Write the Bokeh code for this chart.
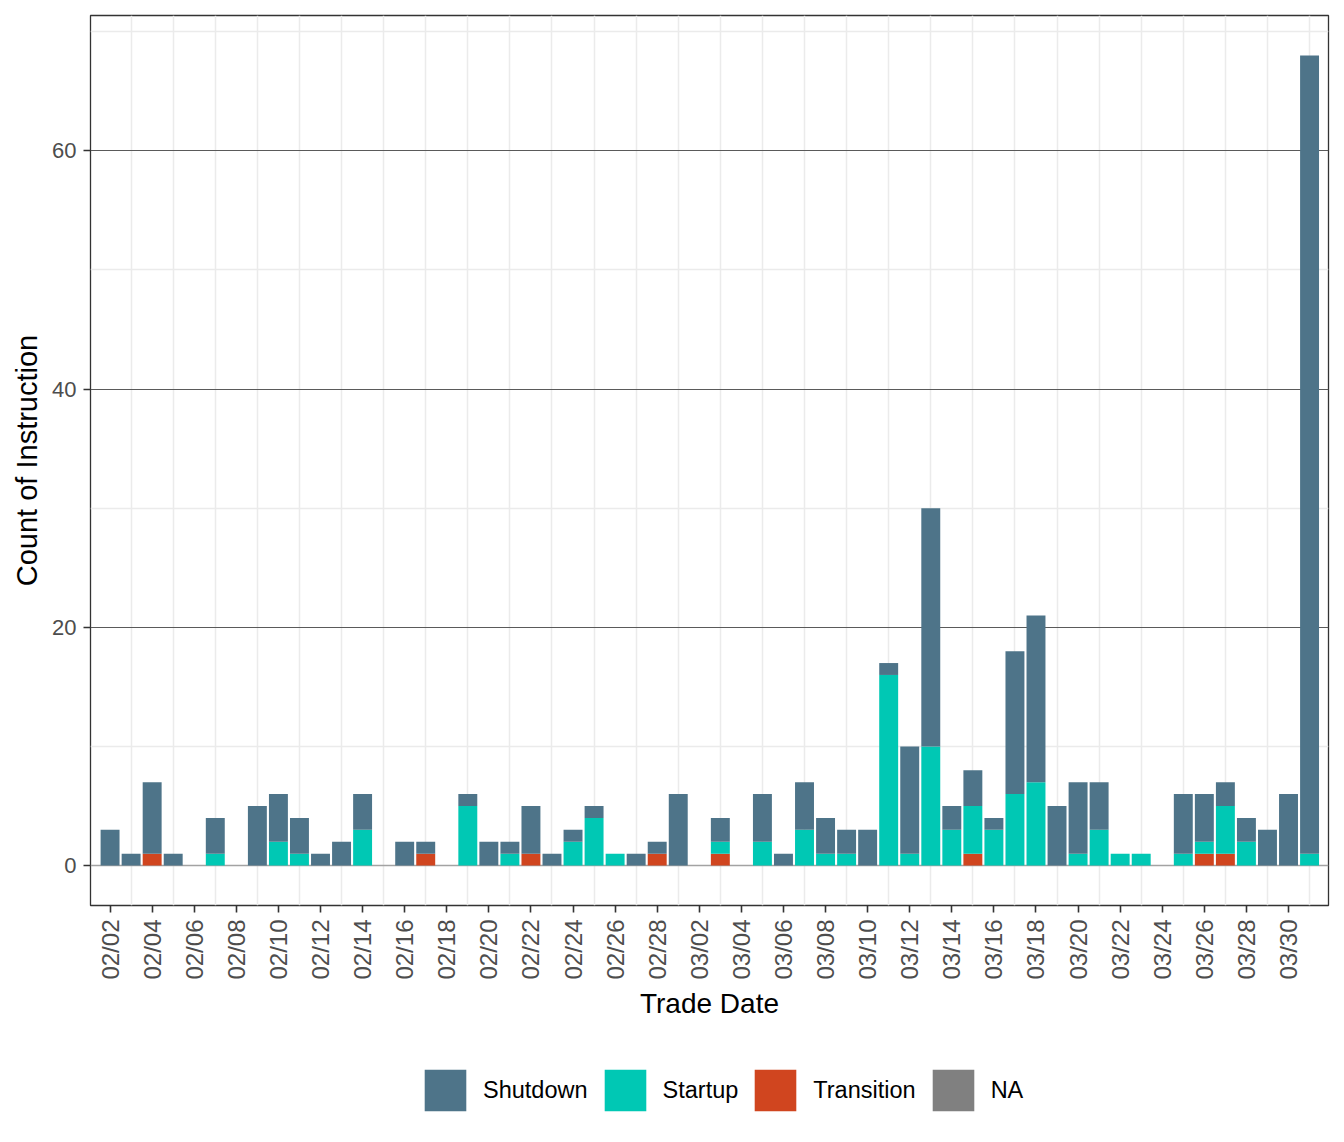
from datetime import datetime, timedelta
from bokeh.plotting import figure
from bokeh.layouts import column
from bokeh.models import (ColumnDataSource, FixedTicker, Range1d, Span, Legend,
                          LegendItem, DatetimeTickFormatter)
from bokeh.embed import file_html
from bokeh.resources import INLINE

# ---- data ----
dates = ["02/02", "02/03", "02/04", "02/05", "02/06", "02/07", "02/08", "02/09", "02/10",
         "02/11", "02/12", "02/13", "02/14", "02/15", "02/16", "02/17", "02/18", "02/19",
         "02/20", "02/21", "02/22", "02/23", "02/24", "02/25", "02/26", "02/27", "02/28",
         "03/01", "03/02", "03/03", "03/04", "03/05", "03/06", "03/07", "03/08", "03/09",
         "03/10", "03/11", "03/12", "03/13", "03/14", "03/15", "03/16", "03/17", "03/18",
         "03/19", "03/20", "03/21", "03/22", "03/23", "03/24", "03/25", "03/26", "03/27",
         "03/28", "03/29", "03/30", "03/31"]
shutdown = [3, 1, 6, 1, 0, 3, 0, 5, 4, 3, 1, 2, 3, 0, 2, 1, 0, 1, 2, 1, 4, 1, 1, 1, 0, 1, 1,
            6, 0, 2, 0, 4, 1, 4, 3, 2, 3, 1, 9, 20, 2, 3, 1, 12, 14, 5, 6, 4, 0, 0, 0, 5, 4,
            2, 2, 3, 6, 67]
startup = [0, 0, 0, 0, 0, 1, 0, 0, 2, 1, 0, 0, 3, 0, 0, 0, 0, 5, 0, 1, 0, 0, 2, 4, 1, 0, 0,
           0, 0, 1, 0, 2, 0, 3, 1, 1, 0, 16, 1, 10, 3, 4, 3, 6, 7, 0, 1, 3, 1, 1, 0, 1, 1,
           4, 2, 0, 0, 1]
transition = [0, 0, 1, 0, 0, 0, 0, 0, 0, 0, 0, 0, 0, 0, 0, 1, 0, 0, 0, 0, 1, 0, 0, 0, 0, 0, 1,
              0, 0, 1, 0, 0, 0, 0, 0, 0, 0, 0, 0, 0, 0, 1, 0, 0, 0, 0, 0, 0, 0, 0, 0, 0, 1,
              1, 0, 0, 0, 0]
categories = ["Shutdown", "Startup", "Transition", "NA"]
colors = {"Shutdown": "#4E7489", "Startup": "#00C8B4", "Transition": "#D0451F", "NA": "#808080"}
y_ticks = [0, 20, 40, 60]
y_minor = [10, 30, 50, 70]
YEAR = 2022

def to_dt(s):
    m, d = s.split("/")
    return datetime(YEAR, int(m), int(d))

xs = [to_dt(d) for d in dates]
src = ColumnDataSource(dict(x=xs, Shutdown=shutdown, Startup=startup, Transition=transition))

DAY = timedelta(days=1)
BAR_W = 0.9 * 86400000
first, last = xs[0], xs[-1]

MAIN_H = 1040
LEG_H = 1142 - MAIN_H

p = figure(width=1344, height=MAIN_H, x_axis_type="datetime", output_backend="svg",
           toolbar_location=None,
           x_range=Range1d(first - 0.93 * DAY, last + 0.9 * DAY),
           y_range=Range1d(-3.35, 71.35),
           min_border_left=90, min_border_right=16, min_border_top=15,
           min_border_bottom=MAIN_H - 905)
p.background_fill_color = "white"
p.border_fill_color = "white"
p.outline_line_color = "#333333"
p.outline_line_width = 1.3

# stacked bars: Transition bottom, Startup, Shutdown top
rs = p.vbar_stack(["Transition", "Startup", "Shutdown"], x="x", width=BAR_W,
                  source=src, color=[colors["Transition"], colors["Startup"], colors["Shutdown"]],
                  line_color=None)

# x ticks every two days, minor grid on odd days
ms = lambda d: d.timestamp() * 1000.0
all_days = [first + i * DAY for i in range((last - first).days + 1)]
major = [ms(d) for i, d in enumerate(all_days) if i % 2 == 0]
minor = [ms(d) for i, d in enumerate(all_days) if i % 2 == 1]
p.xaxis.ticker = FixedTicker(ticks=major, minor_ticks=minor)
fmt = "%m/%d"
p.xaxis.formatter = DatetimeTickFormatter(milliseconds=fmt, seconds=fmt, minsec=fmt, minutes=fmt,
                                          hourmin=fmt, hours=fmt, days=fmt, months=fmt, years=fmt)
p.xaxis.major_label_orientation = 1.5708
p.xgrid.grid_line_color = None
p.xgrid.minor_grid_line_color = "#EBEBEB"
p.xgrid.minor_grid_line_width = 1.5

p.yaxis.ticker = FixedTicker(ticks=y_ticks, minor_ticks=y_minor)
p.ygrid.ticker = FixedTicker(ticks=[t for t in y_ticks if t != 0], minor_ticks=y_minor)
p.ygrid.grid_line_color = "#5A5A5A"
p.ygrid.grid_line_width = 1.2
p.ygrid.minor_grid_line_color = "#EBEBEB"
p.ygrid.minor_grid_line_width = 1.3
zero = Span(location=0, dimension="width", line_color="#A3A3A3", line_width=1.5, level="underlay")
p.add_layout(zero)

for ax in (p.xaxis, p.yaxis):
    ax.axis_line_color = None
    ax.major_tick_line_color = "#333333"
    ax.major_tick_line_width = 1.6
    ax.major_tick_out = 7
    ax.major_tick_in = 0
    ax.minor_tick_line_color = None
    ax.major_label_text_font = "Liberation Sans"
    ax.major_label_text_color = "#4D4D4D"
    ax.axis_label_text_font = "Liberation Sans"
    ax.axis_label_text_font_style = "normal"
    ax.axis_label_text_color = "black"
    ax.major_label_standoff = 7

p.xaxis.major_label_text_font_size = "24px"
p.yaxis.major_label_text_font_size = "22px"
p.xaxis.axis_label = "Trade Date"
p.yaxis.axis_label = "Count of Instruction"
p.xaxis.axis_label_text_font_size = "28px"
p.yaxis.axis_label_text_font_size = "29px"
p.xaxis.axis_label_standoff = 5
p.yaxis.axis_label_standoff = 6

# ---- legend strip below the chart ----
lg = figure(width=1344, height=LEG_H, output_backend="svg", toolbar_location=None,
            x_range=Range1d(0, 1), y_range=Range1d(0, 1),
            x_axis_location=None, y_axis_location=None,
            min_border_left=0, min_border_right=0, min_border_top=0, min_border_bottom=0)
lg.grid.visible = False
lg.outline_line_color = None
lg.background_fill_color = "white"
lg.border_fill_color = "white"
items = []
for c in categories:
    # swatch source: a zero-height bar outside the strip's visible range
    r = lg.vbar(x=[-10], top=[0], bottom=[0], width=0.0, fill_color=colors[c], line_color=None)
    items.append(LegendItem(label=c, renderers=[r]))
legend = Legend(items=items, orientation="horizontal", location=(329, LEG_H - 76),
                glyph_width=52, glyph_height=52, label_standoff=12, spacing=11,
                padding=0, margin=0, border_line_color=None, background_fill_alpha=0,
                label_text_font="Liberation Sans", label_text_font_size="23.5px",
                label_text_color="black")
lg.add_layout(legend)

layout = column(p, lg, spacing=0)
open("out.html", "w").write(file_html(layout, INLINE))
